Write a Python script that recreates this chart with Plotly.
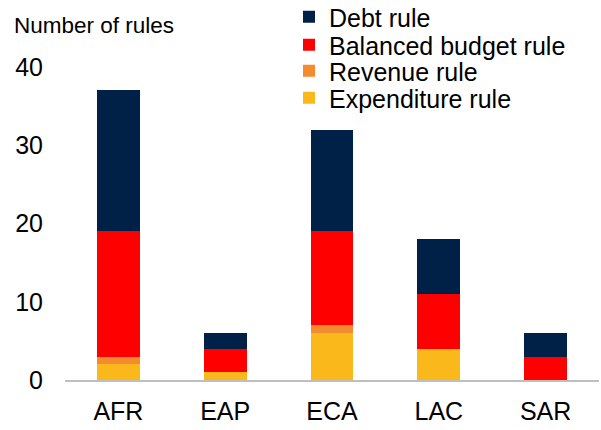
import plotly.graph_objects as go

regions = ["AFR", "EAP", "ECA", "LAC", "SAR"]
expenditure = [2, 1, 6, 4, 0]
revenue = [1, 0, 1, 0, 0]
balanced = [16, 3, 12, 7, 3]
debt = [18, 2, 13, 7, 3]
y_ticks = [0, 10, 20, 30, 40]

series = [
    ("Expenditure rule", expenditure, "#FBB81A", "legend4"),
    ("Revenue rule", revenue, "#F58B2F", "legend3"),
    ("Balanced budget rule", balanced, "#FF0000", "legend2"),
    ("Debt rule", debt, "#002147", "legend"),
]

font = "Liberation Sans, Arial, sans-serif"
L, R, T, B = 65, 2, 5, 50
H = 430 - T - B
W = 601 - L - R
px_per_unit = (380 - 67) / 40.0
ymax = H / px_per_unit

def py(p):
    return (430 - B - p) / H

def pxx(p):
    return (p - L) / W

fig = go.Figure()
for name, vals, color, lg in series:
    fig.add_trace(go.Bar(x=regions, y=vals, name=name, legend=lg, showlegend=True,
                         marker=dict(color=color, line=dict(width=0))))

leg_common = dict(xanchor="left", yanchor="middle", font=dict(size=25, family=font),
                  bgcolor="rgba(0,0,0,0)", itemwidth=30, visible=True)
leg_x = pxx(289)
fig.update_layout(
    barmode="stack",
    bargap=0.6,
    showlegend=True,
    width=601, height=430,
    margin=dict(l=L, r=R, t=T, b=B, autoexpand=False),
    plot_bgcolor="white", paper_bgcolor="white",
    font=dict(family=font, size=24, color="black"),
    legend=dict(x=leg_x, y=py(17), **leg_common),
    legend2=dict(x=leg_x, y=py(45), **leg_common),
    legend3=dict(x=leg_x, y=py(71), **leg_common),
    legend4=dict(x=leg_x, y=py(98), **leg_common),
    xaxis=dict(showline=True, linecolor="#BFBFBF", linewidth=2, ticks="",
               tickfont=dict(size=25), ticklabelstandoff=8),
    yaxis=dict(range=[0, ymax], tickvals=y_ticks, showgrid=False, zeroline=False, showline=False,
               ticks="", tickfont=dict(size=25), ticklabelstandoff=21),
    annotations=[dict(text="Number of rules", x=pxx(12), y=py(25), xref="paper", yref="paper",
                      xanchor="left", yanchor="middle", showarrow=False, font=dict(size=22.5))],
)
fig.write_html("out.html", config={"displayModeBar": False},
               post_script="document.body.style.margin='0';document.body.style.overflow='hidden';")
